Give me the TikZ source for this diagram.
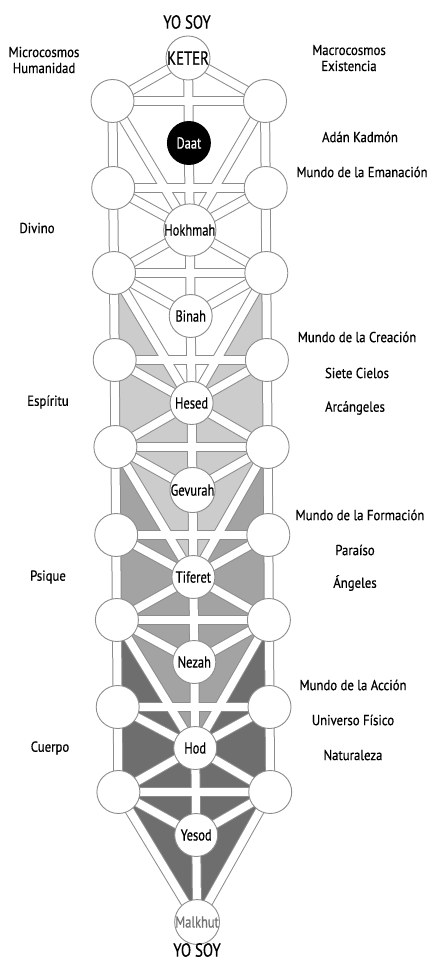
\documentclass[tikz,border=0pt]{standalone}
\usepackage{fontspec}
\setmainfont[FakeStretch=0.88, FakeBold=0.5]{PT Sans}
\newfontfamily\sefont[FakeStretch=0.78, FakeBold=0.5]{PT Sans}
\usetikzlibrary{backgrounds}

\definecolor{pathgray}{gray}{0.55}
\definecolor{worldlight}{gray}{0.80}
\definecolor{worldmid}{gray}{0.64}
\definecolor{worlddark}{gray}{0.43}

\begin{document}
\begin{tikzpicture}[x=1pt, y=-1pt,
        txt/.style={font=\fontsize{14.5}{16}\selectfont, align=center},
        big/.style={font=\sefont\fontsize{19}{21}\selectfont},
        sef/.style={circle, draw=pathgray, line width=0.9pt, fill=white, minimum size=43pt,
            inner sep=0pt, font=\sefont\fontsize{16}{18}\selectfont},
        edge/.style={draw=pathgray, line width=10pt},
        core/.style={draw=white, line width=8pt}
        ]
        \useasboundingbox (0,0) rectangle (431,965);

        %% Central column
        \node[sef, big] (keter) at (188.0,58) {KETER};
        \node[sef, fill=black, draw=black, text=white] (daat) at (188.9,143) {Daat};
        \node[sef] (hokhmah) at (189.8,230) {Hokhmah};
        \node[sef] (binah)   at (190.7,316) {Binah};
        \node[sef] (hesed)   at (191.6,403) {Hesed};
        \node[sef] (gevurah) at (192.5,490) {Gevurah};
        \node[sef] (tiferet) at (193.4,577) {Tiferet};
        \node[sef] (nezah)   at (194.3,662) {Nezah};
        \node[sef] (hod)     at (195.2,748) {Hod};
        \node[sef] (yesod)   at (196.2,835) {Yesod};
        \node[sef, text=black!55] (malkhut) at (197.1,922) {Malkhut};

        %% Side pillars
        \node[sef] (l1) at (112.5,101) {}; \node[sef] (r1) at (265.0,101) {};
        \node[sef] (l2) at (113.2,188) {}; \node[sef] (r2) at (265.7,188) {};
        \node[sef] (l3) at (114.0,273) {}; \node[sef] (r3) at (266.3,273) {};
        \node[sef] (l4) at (114.7,360) {}; \node[sef] (r4) at (266.9,360) {};
        \node[sef] (l5) at (115.4,447) {}; \node[sef] (r5) at (267.6,447) {};
        \node[sef] (l6) at (116.2,535) {}; \node[sef] (r6) at (268.3,535) {};
        \node[sef] (l7) at (116.9,620) {}; \node[sef] (r7) at (268.9,620) {};
        \node[sef] (l8) at (117.7,707) {}; \node[sef] (r8) at (269.5,707) {};
        \node[sef] (l9) at (118.4,792) {}; \node[sef] (r9) at (270.2,792) {};

        %% Top and bottom
        \node[big] (yotop) at (187,22)  {YO SOY};
        \node[big] (yobot) at (197,950) {YO SOY};

        %% Left labels
        \node[txt] (micro)    at (44,60)  {Microcosmos\\Humanidad};
        \node[txt] (divino)   at (37,228) {Divino};
        \node[txt] (espiritu) at (48,402) {Espíritu};
        \node[txt] (psique)   at (48,577) {Psique};
        \node[txt] (cuerpo)   at (50,748) {Cuerpo};

        %% Right labels
        \node[txt] (macro)     at (349,58)  {Macrocosmos\\Existencia};
        \node[txt] (kadmon)    at (360,137) {Adán Kadmón};
        \node[txt] (emanacion) at (362,172) {Mundo de la Emanación};
        \node[txt] (creacion)  at (357,337) {Mundo de la Creación};
        \node[txt] (cielos)    at (357,373) {Siete Cielos};
        \node[txt] (arcang)    at (355,408) {Arcángeles};
        \node[txt] (formacion) at (360,515) {Mundo de la Formación};
        \node[txt] (paraiso)   at (355,550) {Paraíso};
        \node[txt] (angeles)   at (355,583) {Ángeles};
        \node[txt] (accion)    at (353,685) {Mundo de la Acción};
        \node[txt] (fisico)    at (353,720) {Universo Físico};
        \node[txt] (natur)     at (353,755) {Naturaleza};

        \def\paths{keter/daat, daat/hokhmah, hokhmah/binah, binah/hesed, hesed/gevurah,
            gevurah/tiferet, tiferet/nezah, nezah/hod, hod/yesod, yesod/malkhut,
            l1/l2, l2/l3, l3/l4, l4/l5, l5/l6, l6/l7, l7/l8, l8/l9,
            r1/r2, r2/r3, r3/r4, r4/r5, r5/r6, r6/r7, r7/r8, r8/r9,
            l1/r1, l2/r2, l3/r3, l4/r4, l5/r5, l6/r6, l7/r7, l8/r8, l9/r9,
            keter/l1, keter/r1, l2/hokhmah, r2/hokhmah, hokhmah/l3, hokhmah/r3,
            l3/binah, r3/binah, l4/hesed, r4/hesed, hesed/l5, hesed/r5,
            l5/gevurah, r5/gevurah, l6/tiferet, r6/tiferet, tiferet/l7, tiferet/r7,
            l7/nezah, r7/nezah, l8/hod, r8/hod, hod/l9, hod/r9, l9/yesod, r9/yesod,
            l1/hokhmah, r1/hokhmah, l3/hesed, r3/hesed, l5/tiferet, r5/tiferet,
            l7/hod, r7/hod, l9/malkhut, r9/malkhut}

        \begin{scope}[on background layer]
            %% Four worlds, lowest first
            \fill[worlddark]  (tiferet.center) -- (l7.center) -- (l9.center) -- (malkhut.center)
                -- (r9.center) -- (r7.center) -- cycle;
            \fill[worldmid]   (hesed.center) -- (l5.center) -- (l7.center) -- (hod.center)
                -- (r7.center) -- (r5.center) -- cycle;
            \fill[worldlight] (hokhmah.center) -- (l3.center) -- (l5.center) -- (tiferet.center)
                -- (r5.center) -- (r3.center) -- cycle;
            \fill[white]      (keter.center) -- (l1.center) -- (l3.center) -- (hesed.center)
                -- (r3.center) -- (r1.center) -- cycle;

            %% Paths: grey rim, then white core
            \foreach \a/\b in \paths
                \draw[edge] (\a.center) -- (\b.center);
            \foreach \a/\b in \paths
                \draw[core] (\a.center) -- (\b.center);
        \end{scope}

    \end{tikzpicture}
\end{document}
